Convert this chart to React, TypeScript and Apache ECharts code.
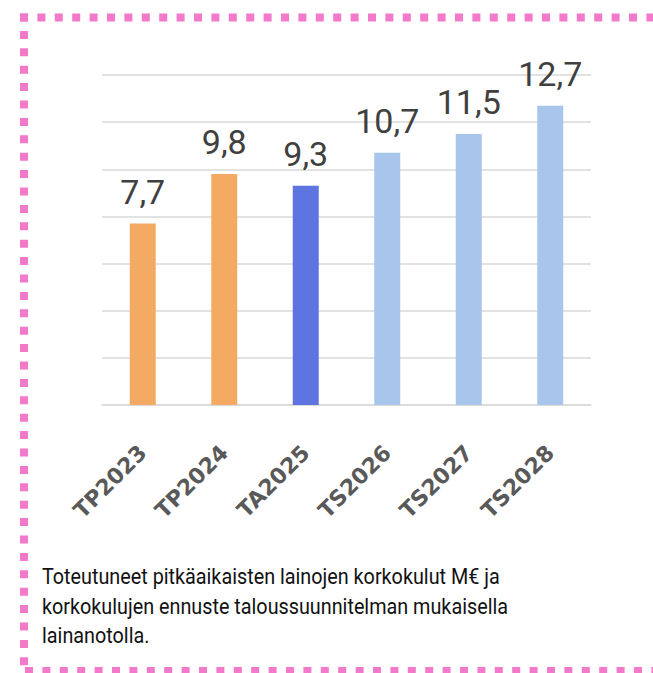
import React, { useEffect, useRef } from "react";
import * as echarts from "echarts";

const categories = ["TP2023", "TP2024", "TA2025", "TS2026", "TS2027", "TS2028"];
const values = [7.7, 9.8, 9.3, 10.7, 11.5, 12.7];
const barColors = ["#F5AA63", "#F5AA63", "#5E74E0", "#A8C6EC", "#A8C6EC", "#A8C6EC"];
const captionLines = [
  "Toteutuneet pitkäaikaisten lainojen korkokulut M€ ja",
  "korkokulujen ennuste taloussuunnitelman mukaisella",
  "lainanotolla.",
];

export default function App() {
  const ref = useRef<HTMLDivElement>(null);
  useEffect(() => {
    document.body.style.margin = "0";
    const chart = echarts.init(ref.current!, undefined, { renderer: "svg" });
    const pink = "#F37ACA";
    const dash = [8, 9.4];
    chart.setOption({
      animation: false,
      backgroundColor: "#ffffff",
      grid: { left: 102, right: 62, top: 75, bottom: 268, containLabel: false },
      xAxis: {
        type: "category",
        data: categories,
        axisLine: { show: true, lineStyle: { color: "#D9D9D9", width: 1.5 } },
        axisTick: { show: false },
        axisLabel: {
          rotate: 45,
          margin: 44,
          fontSize: 22,
          fontWeight: "bold",
          fontFamily: "DejaVu Sans",
          color: "#595959",
        },
      },
      yAxis: {
        type: "value",
        min: 0,
        max: 14,
        interval: 2,
        axisLabel: { show: false },
        axisLine: { show: false },
        axisTick: { show: false },
        splitLine: { lineStyle: { color: "#D9D9D9", width: 1.5 } },
      },
      series: [
        {
          type: "bar",
          barWidth: 26,
          data: values.map((v, i) => ({ value: v, itemStyle: { color: barColors[i] } })),
          label: {
            show: true,
            position: "top",
            distance: 15,
            fontSize: 34,
            fontFamily: "Roboto",
            color: "#404040",
            formatter: (p: any) => String(p.value).replace(".", ","),
          },
        },
      ],
      graphic: [
        { type: "line", shape: { x1: 20, y1: 17.5, x2: 660, y2: 17.5 }, style: { stroke: pink, lineWidth: 8, lineDash: dash } },
        { type: "line", shape: { x1: 24, y1: 13.5, x2: 24, y2: 680 }, style: { stroke: pink, lineWidth: 8, lineDash: dash } },
        { type: "line", shape: { x1: 25, y1: 671, x2: 660, y2: 671 }, style: { stroke: pink, lineWidth: 8, lineDash: dash } },
        ...captionLines.map((t, i) => ({
          type: "text",
          x: 42,
          y: 566 + i * 29.5,
          scaleX: 0.9,
          style: {
            text: t,
            fontSize: 22,
            fontFamily: "Roboto",
            fill: "#111111",
          },
        })),
      ],
    });
    return () => chart.dispose();
  }, []);
  return <div ref={ref} style={{ width: 653, height: 673 }} />;
}
